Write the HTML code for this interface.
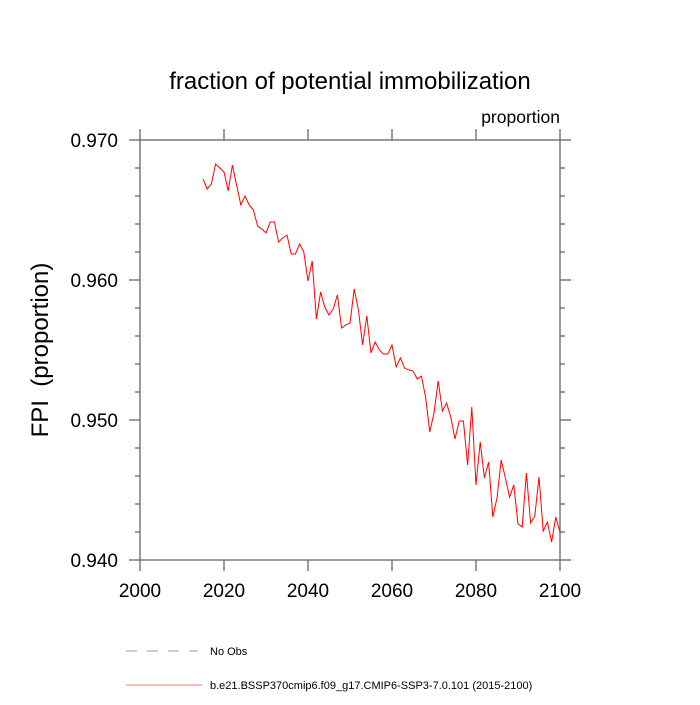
<!DOCTYPE html>
<html><head><meta charset="utf-8"><style>
body{margin:0;background:#fff}
svg text{font-family:"Liberation Sans",Arial,sans-serif;fill:#000}
</style></head><body>
<svg id="chart" width="700" height="700" xmlns="http://www.w3.org/2000/svg">
<rect width="700" height="700" fill="#fff"/>
<text x="350" y="89" font-size="24" text-anchor="middle">fraction of potential immobilization</text>
<text x="560" y="123" font-size="17.5" text-anchor="end">proportion</text>
<text x="0" y="0" font-size="24" text-anchor="middle" xml:space="preserve" style="white-space:pre" transform="translate(48,350) rotate(-90)">FPI  (proportion)</text>
<g id="axes"></g>
<g id="series"></g>
<g>
<line x1="126" y1="651" x2="198" y2="651" stroke="#99a" stroke-width="1" stroke-dasharray="11,10"/>
<text x="210" y="655" font-size="11">No Obs</text>
<line x1="126" y1="685" x2="202" y2="685" stroke="#f77" stroke-width="1"/>
<text x="210" y="689" font-size="11">b.e21.BSSP370cmip6.f09_g17.CMIP6-SSP3-7.0.101 (2015-2100)</text>
</g>
</svg>
<script>
const years = [];
for (let y = 2015; y <= 2100; y++) years.push(y);
const fpi = [0.96721,0.9665,0.96686,0.96829,0.9680,0.96771,0.96636,0.96821,0.96679,0.96536,
0.9660,0.96536,0.9650,0.96386,0.96364,0.96336,0.96414,0.96414,0.96271,0.9630,
0.96321,0.96186,0.96186,0.96257,0.9620,0.95993,0.96136,0.95721,0.95914,0.95807,
0.9575,0.95793,0.95893,0.95657,0.95679,0.95693,0.95936,0.95786,0.95536,0.95743,
0.95479,0.95557,0.9550,0.95471,0.95471,0.95536,0.95379,0.95443,0.95371,0.95357,
0.9535,0.95293,0.95314,0.95164,0.94914,0.9505,0.95279,0.95064,0.95121,0.95021,
0.94864,0.94993,0.94993,0.94679,0.95093,0.94536,0.94843,0.94586,0.9470,0.94307,
0.94443,0.94714,0.94586,0.9445,0.94536,0.94257,0.94236,0.94621,0.94264,0.94314,
0.94593,0.94207,0.94271,0.94129,0.94307,0.9420];
const xTicks = [2000,2020,2040,2060,2080,2100];
const yTicks = [0.940,0.950,0.960,0.970];
const yTickLabels = ["0.940","0.950","0.960","0.970"];
const yMinor = [0.942,0.944,0.946,0.948,0.952,0.954,0.956,0.958,0.962,0.964,0.966,0.968];

const L=140,R=560,T=140,B=560;
const xs = v => L + (v-2000)/100*(R-L);
const ys = v => B - (v-0.940)/0.030*(B-T);
const NS="http://www.w3.org/2000/svg";
const axes=document.getElementById('axes');
function ln(x1,y1,x2,y2,name){
  const l=document.createElementNS(NS,'line');
  l.setAttribute('x1',x1);l.setAttribute('y1',y1);l.setAttribute('x2',x2);l.setAttribute('y2',y2);
  l.setAttribute('stroke','#666');l.setAttribute('stroke-width','1.3');
  
  
  axes.appendChild(l);
}
function tx(x,y,s,anchor,name){
  const t=document.createElementNS(NS,'text');
  t.setAttribute('x',x);t.setAttribute('y',y);t.setAttribute('font-size','19');t.setAttribute('text-anchor',anchor);
  t.textContent=s;
  
  
  axes.appendChild(t);
}
const frame=document.createElementNS(NS,'rect');
frame.setAttribute('x',L);frame.setAttribute('y',T);frame.setAttribute('width',R-L);frame.setAttribute('height',B-T);
frame.setAttribute('fill','none');frame.setAttribute('stroke','#666');frame.setAttribute('stroke-width','1.3');


axes.appendChild(frame);
xTicks.forEach(v=>{
  const x=xs(v);
  ln(x,B,x,B+11,'x-tick');ln(x,T,x,T-11,'x-tick-top');
  tx(x,B+37,String(v),'middle','x-tick-label');
});
yTicks.forEach((v,i)=>{
  const y=ys(v);
  ln(L-11,y,L,y,'y-tick');ln(R,y,R+11,y,'y-tick-right');
  tx(L-22,y+7,yTickLabels[i],'end','y-tick-label');
});
yMinor.forEach(v=>{
  const y=ys(v);
  ln(L-5,y,L,y,'y-minor-tick');ln(R,y,R+5,y,'y-minor-tick-right');
});
const p=document.createElementNS(NS,'polyline');
p.setAttribute('points',years.map((yr,i)=>xs(yr)+','+ys(fpi[i])).join(' '));
p.setAttribute('fill','none');p.setAttribute('stroke','#f00');p.setAttribute('stroke-width','1');


document.getElementById('series').appendChild(p);
</script>
</body></html>
